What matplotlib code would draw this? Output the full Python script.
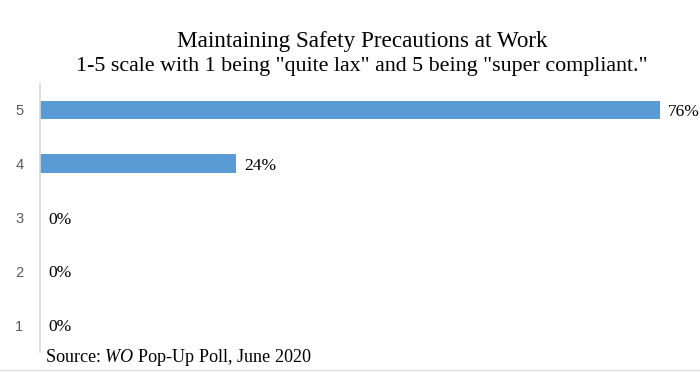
import matplotlib
matplotlib.use("Agg")
import matplotlib.pyplot as plt
from matplotlib.lines import Line2D

# dados da enquete
escala = [1, 2, 3, 4, 5]
percentuais = [0.00, 0.00, 0.00, 0.24, 0.76]
rotulos = ["0%", "0%", "0%", "24%", "76%"]

cor_barra = "#5B9BD5"

# italico do "WO" na fonte serifada
plt.rcParams["mathtext.fontset"] = "custom"
plt.rcParams["mathtext.rm"] = "Liberation Serif"
plt.rcParams["mathtext.it"] = "Liberation Serif:italic"

fig = plt.figure(figsize=(7, 3.72), dpi=100)
ax = fig.add_axes([40 / 700, 1 - 352 / 372, 620 / 700, (352 - 84) / 372])

ax.barh(escala, percentuais, height=0.34, color=cor_barra)
ax.set_xlim(0, 0.76)
ax.set_ylim(0.5, 5.48)

for y, x, rotulo in zip(escala, percentuais, rotulos):
    ax.annotate(rotulo, (x, y), textcoords="offset points", xytext=(6, -1.5),
                ha="left", va="center", fontsize=12.5,
                family="Liberation Serif", color="black", annotation_clip=False)

ax.set_yticks(escala)
ax.set_yticklabels([str(e) for e in escala], family="Liberation Sans",
                   fontsize=10.5, color="#595959")
ax.tick_params(axis="y", length=0, pad=12)
ax.set_xticks([])
for lado in ["top", "right", "bottom"]:
    ax.spines[lado].set_visible(False)
ax.spines["left"].set_color("#D9D9D9")
ax.spines["left"].set_linewidth(1.2)

fig.text(362 / 700, 1 - 42 / 372, "Maintaining Safety Precautions at Work",
         ha="center", va="center", fontsize=16.7, family="Liberation Serif")
fig.text(362 / 700, 1 - 67 / 372,
         '1-5 scale with 1 being "quite lax" and 5 being "super compliant."',
         ha="center", va="center", fontsize=15.8, family="Liberation Serif")

fig.text(45 / 700, 1 - 357 / 372, r"Source: $\mathit{WO}$ Pop-Up Poll, June 2020",
         ha="left", va="center", fontsize=13.1, family="Liberation Serif")

# linha fina cinza no rodape
fig.add_artist(Line2D([0, 1], [1 - 370 / 372] * 2, transform=fig.transFigure,
                      color="#E0E0E0", linewidth=1))

fig.savefig("out.png", dpi=100)
